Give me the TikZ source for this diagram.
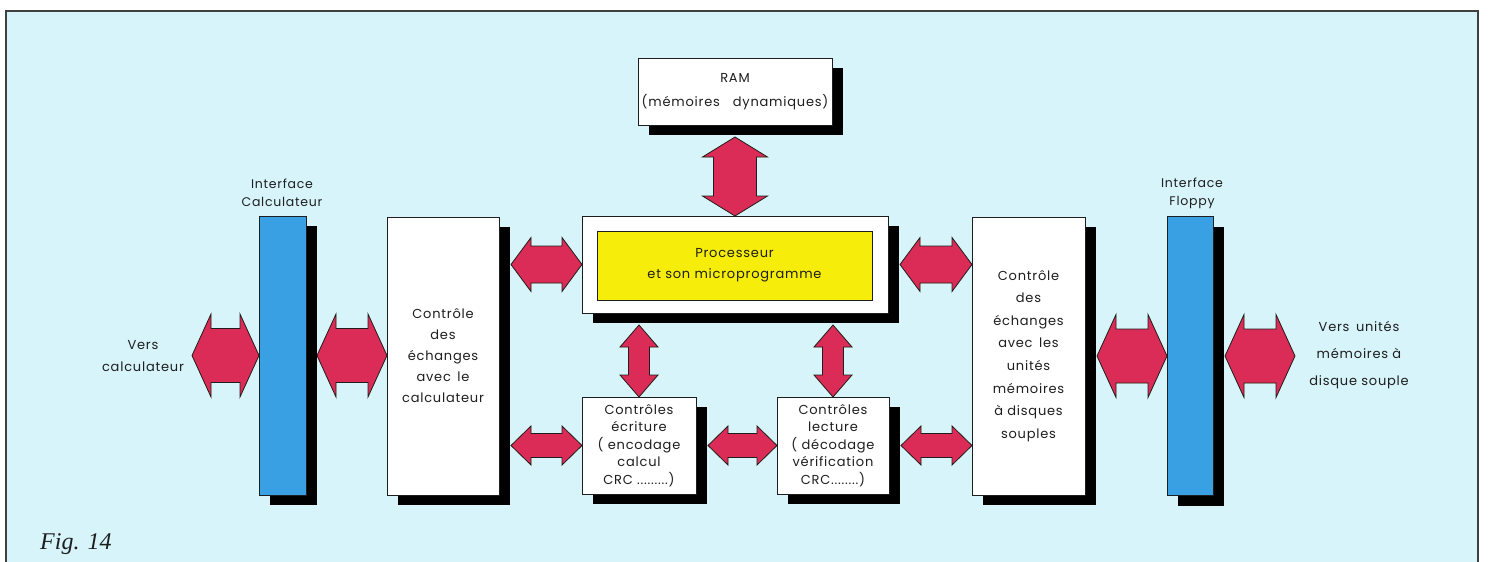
\documentclass[tikz,border=0pt]{standalone}
\usepackage{fontspec}
\newfontfamily\labf[LetterSpace=6]{Poppins}
\newfontfamily\figf{Liberation Serif}
\usetikzlibrary{shadows,calc}
\definecolor{bgc}{RGB}{215,244,250}
\definecolor{arrred}{RGB}{218,44,86}
\definecolor{arryel}{RGB}{240,228,0}
\definecolor{barblue}{RGB}{58,160,228}
\definecolor{procyel}{RGB}{246,238,10}
\definecolor{ink}{RGB}{30,30,30}
\tikzset{
  shad/.style={drop shadow={shadow xshift=11pt, shadow yshift=-10pt, fill=black, opacity=1}},
  box/.style={draw=ink, line width=0.9pt, fill=white, inner sep=0pt, outer sep=0pt,
    align=center, text=ink, shad},
  bar/.style={draw=ink, line width=0.9pt, fill=barblue, inner sep=0pt, outer sep=0pt,
    minimum width=47pt, minimum height=279pt, shad},
  ashadow/.style={fill=arryel, xshift=1.6pt, yshift=-1.9pt},
  afill/.style={fill=arrred, draw=ink, line width=0.8pt, line join=miter},
  lbl/.style={inner sep=0pt, align=center, text=ink},
}
\newcommand\harr[5]{%
  \path[ashadow] let \p1=#1, \p2=#2 in (\x1,\y1) -- (\x1+#5pt,\y1+#3pt) -- (\x1+#5pt,\y1+#4pt)
    -- (\x2-#5pt,\y1+#4pt) -- (\x2-#5pt,\y1+#3pt) -- (\x2,\y1) -- (\x2-#5pt,\y1-#3pt)
    -- (\x2-#5pt,\y1-#4pt) -- (\x1+#5pt,\y1-#4pt) -- (\x1+#5pt,\y1-#3pt) -- cycle;
  \path[afill] let \p1=#1, \p2=#2 in (\x1,\y1) -- (\x1+#5pt,\y1+#3pt) -- (\x1+#5pt,\y1+#4pt)
    -- (\x2-#5pt,\y1+#4pt) -- (\x2-#5pt,\y1+#3pt) -- (\x2,\y1) -- (\x2-#5pt,\y1-#3pt)
    -- (\x2-#5pt,\y1-#4pt) -- (\x1+#5pt,\y1-#4pt) -- (\x1+#5pt,\y1-#3pt) -- cycle;
}
\newcommand\varr[5]{%
  \path[ashadow] let \p1=#1, \p2=#2 in (\x1,\y1) -- (\x1+#3pt,\y1-#5pt) -- (\x1+#4pt,\y1-#5pt)
    -- (\x1+#4pt,\y2+#5pt) -- (\x1+#3pt,\y2+#5pt) -- (\x1,\y2) -- (\x1-#3pt,\y2+#5pt)
    -- (\x1-#4pt,\y2+#5pt) -- (\x1-#4pt,\y1-#5pt) -- (\x1-#3pt,\y1-#5pt) -- cycle;
  \path[afill] let \p1=#1, \p2=#2 in (\x1,\y1) -- (\x1+#3pt,\y1-#5pt) -- (\x1+#4pt,\y1-#5pt)
    -- (\x1+#4pt,\y2+#5pt) -- (\x1+#3pt,\y2+#5pt) -- (\x1,\y2) -- (\x1-#3pt,\y2+#5pt)
    -- (\x1-#4pt,\y2+#5pt) -- (\x1-#4pt,\y1-#5pt) -- (\x1-#3pt,\y1-#5pt) -- cycle;
}
\begin{document}
\begin{tikzpicture}[x=1pt,y=-1pt]
\useasboundingbox (0,0) rectangle (1488,562);
\fill[white] (0,0) rectangle (1488,562);
\draw[line width=1.6pt, draw=black!75, fill=bgc] (6,11) rectangle (1478,580);

% interface bars
\node[bar] (barL) at (282.5,355.5) {};
\node[bar, minimum width=46pt] (barR) at (1190,356) {};
\node[lbl, font=\labf\fontsize{12.5}{18}\selectfont] (labL) at (282,193) {Interface\\Calculateur};
\node[lbl, font=\labf\fontsize{12.5}{18}\selectfont] (labR) at (1192,193) {Interface\\Floppy};

% boxes
\node[box, minimum width=194pt, minimum height=67pt, font=\labf\fontsize{13}{24}\selectfont]
  (ram) at (735,91.5) {RAM\\(mémoires\quad dynamiques)};
\node[box, minimum width=306pt, minimum height=97pt] (proc) at (735,264.5) {};
\node[draw=ink, line width=0.9pt, fill=procyel, inner sep=0pt, minimum width=275pt,
  minimum height=69pt, align=center, text=ink, font=\labf\fontsize{13}{21}\selectfont]
  (procin) at (734.5,265.5) {Processeur\\et son microprogramme};
\node[box, minimum width=112pt, minimum height=278pt, font=\labf\fontsize{13}{21}\selectfont]
  (ctlL) at (443,356) {Contrôle\\des\\échanges\\avec\enspace le\\calculateur};
\node[box, minimum width=113pt, minimum height=278pt, font=\labf\fontsize{13}{22.6}\selectfont]
  (ctlR) at (1028.5,356) {Contrôle\\des\\échanges\\avec\enspace les\\unités\\mémoires\\à disques\\souples};
\node[box, minimum width=114pt, minimum height=97pt, font=\labf\fontsize{13}{17.5}\selectfont]
  (ecr) at (639,445.5) {Contrôles\\écriture\\( encodage\\calcul\\CRC .........)};
\node[box, minimum width=112pt, minimum height=97pt, font=\labf\fontsize{13}{17.5}\selectfont]
  (lec) at (833,445.5) {Contrôles\\lecture\\( décodage\\vérification\\CRC........)};

% side texts
\node[lbl, font=\labf\fontsize{13}{22}\selectfont] (vcal) at (143,356) {Vers\\calculateur};
\node[lbl, font=\labf\fontsize{13}{27}\selectfont] (vuni) at (1359,355) {Vers\enspace unités\\mémoires à\\disque souple};
\node[lbl, anchor=west, font=\figf\itshape\fontsize{24}{26}\selectfont] (fig) at (40,544) {Fig. 14};

% arrow end points
\coordinate (vc) at (192,355.5);
\coordinate (vu) at (1295,356);
\coordinate (a2) at ($(barL.east)+(11,0)$);
\coordinate (a3) at ($(ctlL.east |- proc.west)+(12,0)$);
\coordinate (a4) at ($(ctlL.east |- ecr.west)+(12,0)$);
\coordinate (a5) at ($(ecr.east)+(12,0)$);
\coordinate (a6) at ($(lec.east)+(12,0)$);
\coordinate (a7) at ($(proc.east)+(12,0)$);
\coordinate (a8) at ($(ctlR.east |- barR.west)+(12,0)$);
\coordinate (a9) at ($(barR.east)+(12,0)$);
\coordinate (a10) at ($(ram.south)+(0,12)$);
\coordinate (a11) at ($(ecr.north |- proc.south)+(0,12)$);
\coordinate (a12) at ($(lec.north |- proc.south)+(0,12)$);

% arrows
\harr{(vc)}{(barL.west)}{41.5}{27}{19}
\harr{(a2)}{(ctlL.west)}{41.5}{27}{19}
\harr{(a3)}{(proc.west)}{27}{18.5}{20}
\harr{(a4)}{(ecr.west)}{19.5}{12}{20}
\harr{(a5)}{(lec.west)}{19.5}{12}{20}
\harr{(a6)}{(ctlR.west)}{19.5}{12}{20}
\harr{(a7)}{(ctlR.west)}{27}{18.5}{20}
\harr{(a8)}{(barR.west)}{41.5}{27}{19}
\harr{(a9)}{(vu)}{41.5}{27}{19}
\varr{(a10)}{(proc.north)}{32.5}{21.5}{20}
\varr{(a11)}{(ecr.north)}{19}{10.5}{22}
\varr{(a12)}{(lec.north)}{19}{10.5}{22}
\end{tikzpicture}
\end{document}
